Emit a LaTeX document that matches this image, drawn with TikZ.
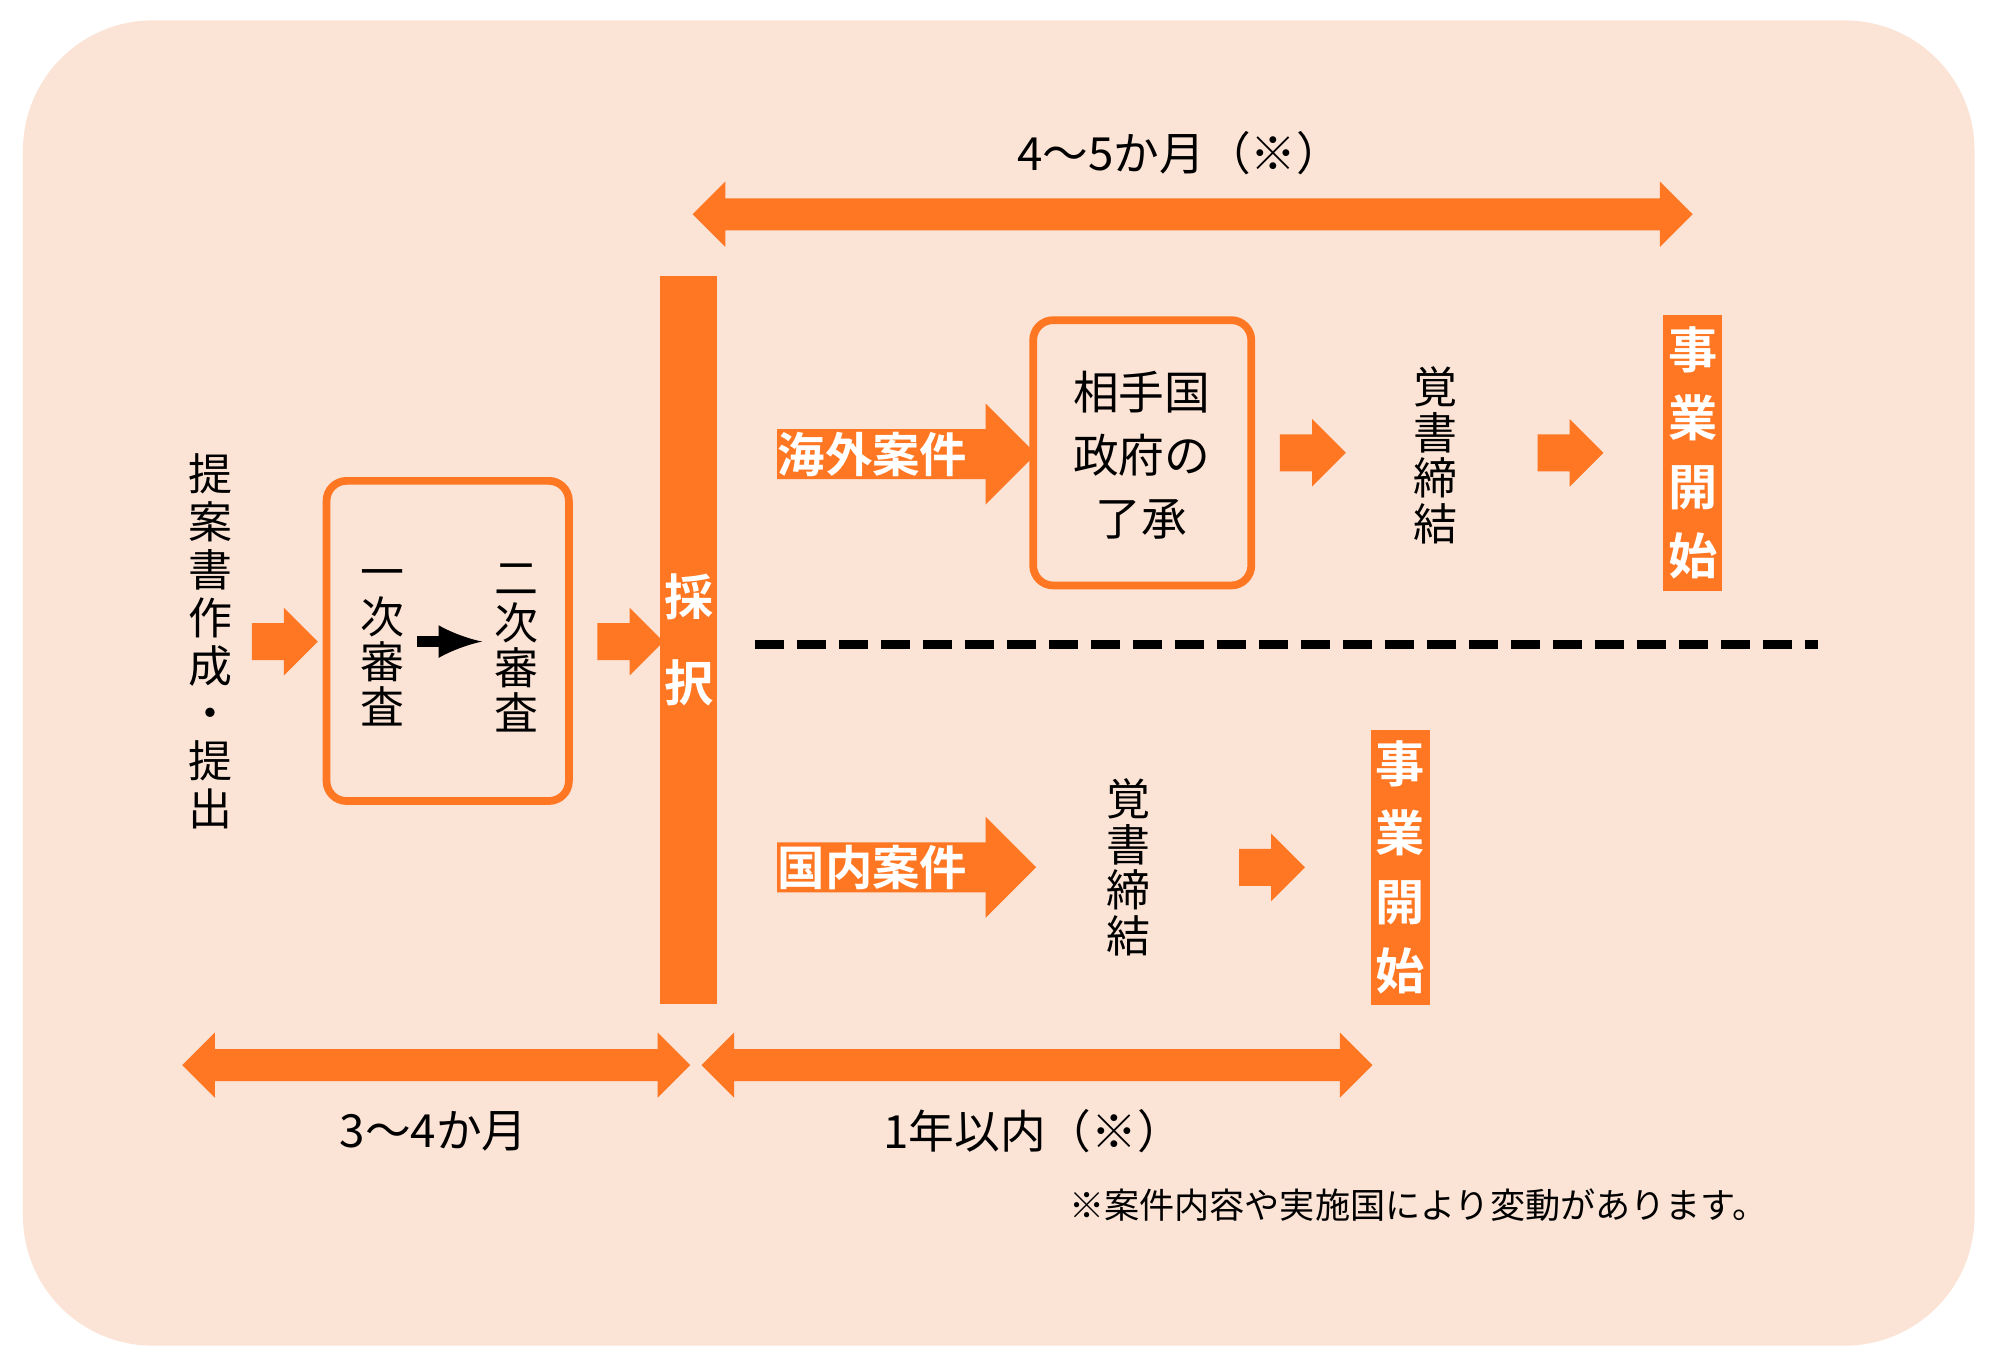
\documentclass[tikz,border=0pt]{standalone}
\usepackage{fontspec}
\setmainfont{Noto Sans CJK JP}[BoldFont={Noto Sans CJK JP Bold}]
\usetikzlibrary{shapes.arrows}
\definecolor{peach}{HTML}{FBE3D6}
\definecolor{orng}{HTML}{FF7722}
\tikzset{
  vtext/.style={align=center, font=\fontsize{12.5}{13.6}\selectfont, inner sep=0pt},
  htext/.style={font=\fontsize{13}{15}\selectfont, inner sep=0pt},
  smallarrow/.style={single arrow, fill=orng, draw=none, minimum height=0.66cm, minimum width=0.66cm, single arrow head extend=0.153cm, inner sep=0.178cm},
  casearrow/.style={single arrow, fill=orng, draw=none, minimum height=2.59cm, minimum width=0.995cm, single arrow head extend=0.255cm, inner sep=0.243cm},
  caselbl/.style={text=white, font=\bfseries\fontsize{13.5}{15}\selectfont, inner sep=0pt},
  spanarrow/.style={double arrow, fill=orng, draw=none, minimum width=0.64cm, double arrow head extend=0.166cm, inner sep=0.153cm},
  obox/.style={draw=orng, line width=2.2pt, rounded corners=0.2cm, fill=none},
  startbox/.style={fill=orng, minimum width=0.587cm, minimum height=2.755cm, inner sep=0pt, text=white, align=center, font=\bfseries\fontsize{14}{19.6}\selectfont},
}
\begin{document}
\begin{tikzpicture}[x=0.012755cm, y=-0.012755cm]
\useasboundingbox (0,0) rectangle (1568,1071);
\fill[white] (0,0) rectangle (1568,1071);
\fill[peach, rounded corners=1.3cm] (18,16) rectangle (1548,1055);
% span arrows
\node[spanarrow, minimum height=10cm] (top) at (935,168) {};
\node[htext] (toplbl) at (925,120) {4〜5か月（※）};
\node[spanarrow, minimum height=5.08cm] (span1) at (342,835) {};
\node[htext] (span1lbl) at (340,887) {3〜4か月};
\node[spanarrow, minimum height=6.71cm] (span2) at (813,835) {};
\node[htext] (span2lbl) at (810,887) {1年以内（※）};
\node[font=\fontsize{10}{12}\selectfont, inner sep=0pt] (note) at (1112,945) {※案件内容や実施国により変動があります。};
% left part
\node[vtext] (draft) at (165,503) {提\\案\\書\\作\\成\\・\\提\\出};
\node[smallarrow] (a1) at (216,503) {};
\draw[obox] (256,377) rectangle (446,628);
\node[vtext, font=\fontsize{12.5}{12.8}\selectfont] (first) at (300,508) {一\\次\\審\\査};
\node[vtext, font=\fontsize{12.5}{12.8}\selectfont] (second) at (405,508) {二\\次\\審\\査};
\coordinate (ba) at (327,503);
\coordinate (bb) at (378,503);
\draw[-latex, line width=3.2pt] (ba) -- (bb);
\node[smallarrow] (a2) at (487,503) {};
% selection bar
\node[fill=orng, minimum width=0.574cm, minimum height=7.28cm, inner sep=0pt] (select) at (540,502) {};
\node[text=white, font=\bfseries\fontsize{14}{16}\selectfont, inner sep=0pt] (sel1) at (540,468) {採};
\node[text=white, font=\bfseries\fontsize{14}{16}\selectfont, inner sep=0pt] (sel2) at (540,535) {択};
% overseas
\node[casearrow] (abroad) at (701,356) {};
\node[caselbl] (abroadlbl) at (684,356) {海外案件};
\draw[obox] (810,251) rectangle (981,459);
\node[align=center, font=\fontsize{13}{18}\selectfont, inner sep=0pt] (consent) at (895,357) {相手国\\政府の\\了承};
\node[smallarrow] (a3) at (1022,355) {};
\node[vtext, font=\fontsize{12.5}{13}\selectfont] (memo1) at (1125,357) {覚\\書\\締\\結};
\node[smallarrow] (a4) at (1224,355) {};
\node[startbox] (start1) at (1327,355) {事\\業\\開\\始};
% divider
\draw[line width=2.6pt, dash pattern=on 0.29cm off 0.13cm] (592,505) -- (1425,505);
% domestic
\node[casearrow] (domestic) at (701,680) {};
\node[caselbl] (domesticlbl) at (684,680) {国内案件};
\node[vtext, font=\fontsize{12.5}{13}\selectfont] (memo2) at (885,680) {覚\\書\\締\\結};
\node[smallarrow] (a5) at (990,680) {};
\node[startbox] (start2) at (1098,680) {事\\業\\開\\始};
\end{tikzpicture}
\end{document}
